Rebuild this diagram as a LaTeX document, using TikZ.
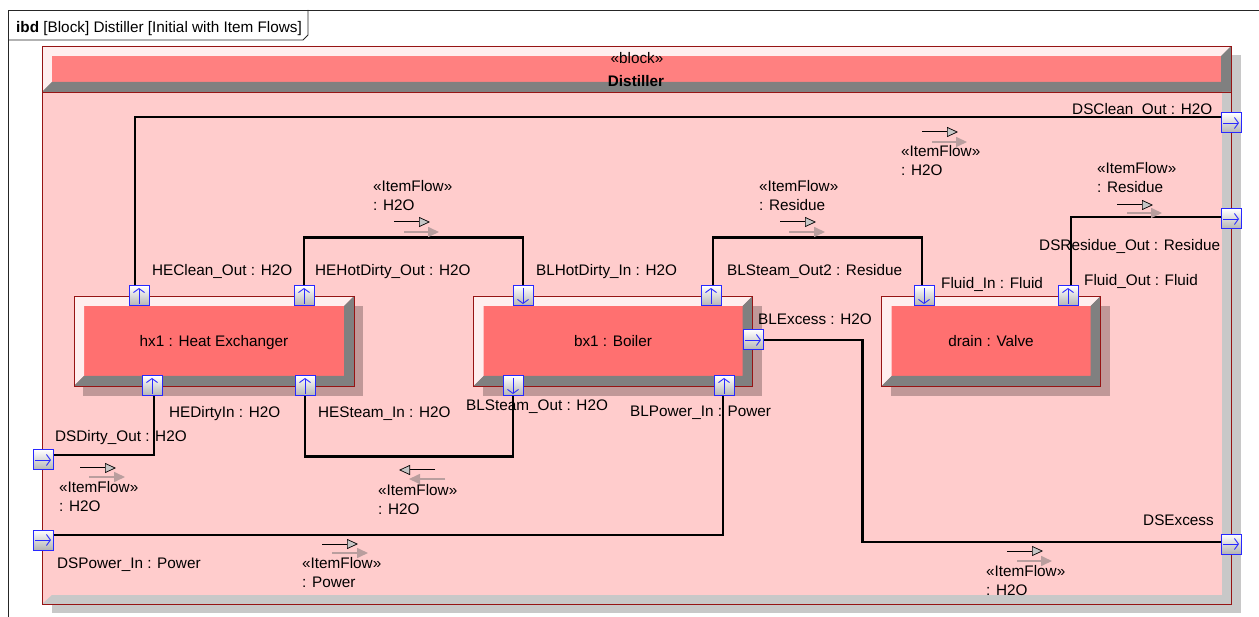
\documentclass[tikz,border=0pt]{standalone}
\usepackage{fontspec}
\setmainfont{Liberation Sans}
\usetikzlibrary{arrows.meta, shadows}

\definecolor{bodypink}{RGB}{255,204,204}
\definecolor{headred}{RGB}{255,128,128}
\definecolor{partred}{RGB}{255,112,112}
\definecolor{edgered}{RGB}{150,20,20}
\definecolor{bevelgray}{RGB}{128,128,128}
\definecolor{bevellight}{RGB}{255,238,238}
\definecolor{partshadow}{RGB}{192,152,152}
\definecolor{frameshadow}{RGB}{200,200,200}
\definecolor{portblue}{RGB}{40,40,255}
\definecolor{ghostgray}{RGB}{185,158,158}

\begin{document}
\begin{tikzpicture}[x=1pt, y=-1pt, font=\fontsize{15.3}{19.3}\selectfont,
  partblock/.style = {rectangle, draw=edgered, fill=partred, minimum height=90pt, inner sep=0pt,
    text height=11pt, text depth=0pt,
    drop shadow={shadow xshift=9pt, shadow yshift=-10pt, fill=partshadow, opacity=1},
    path picture={
      \fill [bevellight] (path picture bounding box.north west) -- (path picture bounding box.north east)
        -- ([shift={(-10pt,-10pt)}]path picture bounding box.north east)
        -- ([shift={(10pt,-10pt)}]path picture bounding box.north west)
        -- ([shift={(10pt,10pt)}]path picture bounding box.south west)
        -- (path picture bounding box.south west) -- cycle;
      \fill [bevelgray] (path picture bounding box.south west) -- (path picture bounding box.south east)
        -- (path picture bounding box.north east)
        -- ([shift={(-10pt,-10pt)}]path picture bounding box.north east)
        -- ([shift={(-10pt,10pt)}]path picture bounding box.south east)
        -- ([shift={(10pt,10pt)}]path picture bounding box.south west) -- cycle;}},
  port/.style = {rectangle, draw=portblue, line width=1pt, minimum size=20pt, inner sep=0pt,
    top color=white, bottom color=gray!60},
  portarrow/.style = {portblue, line width=0.9pt, -{Straight Barb[length=4pt, width=11pt]}},
  portup/.style = {port, path picture={\draw [portarrow] ([yshift=2pt]path picture bounding box.south)
    -- ([yshift=-2pt]path picture bounding box.north);}},
  portdown/.style = {port, path picture={\draw [portarrow] ([yshift=-2pt]path picture bounding box.north)
    -- ([yshift=2pt]path picture bounding box.south);}},
  portright/.style = {port, path picture={\draw [portarrow] ([xshift=2pt]path picture bounding box.west)
    -- ([xshift=-2pt]path picture bounding box.east);}},
  portlabel/.style = {anchor=west, inner sep=0pt, text height=11pt, text depth=0pt},
  flowlabel/.style = {anchor=north west, inner sep=0pt, align=left},
  flowarrow/.style = {line width=1pt, -{Triangle[length=11pt, width=10pt, fill=gray!45, line width=0.7pt]}},
  flowghost/.style = {ghostgray, line width=1.6pt, -{Triangle[length=11pt, width=10pt]}},
  connector/.style = {line width=2.5pt}]

  \useasboundingbox (0, 0) rectangle (1259, 617);

  % Diagram frame.
  \draw [black!85, line width=0.8pt] (8, 617) -- (8, 10) -- (1259, 10);
  \draw [black!85, line width=0.8pt] (8, 40) -- (303, 40) -- (308, 35) -- (308, 10);
  \node at (16, 27) [portlabel, name=FrameTab] {\textbf{ibd} [Block] Distiller [Initial with Item Flows]};

  % Enclosing block.
  \node at (636.5, 325) [rectangle, draw=edgered, fill=bodypink, minimum width=1189pt, minimum height=558pt,
    drop shadow={shadow xshift=10pt, shadow yshift=-9pt, fill=frameshadow, opacity=1}, name=Distiller] {};
  \fill [bevellight] (42, 46) -- (1231, 46) -- (1221, 56) -- (52, 56) -- (52, 82) -- (42, 92) -- cycle;
  \fill [headred] (52, 56) rectangle (1221, 82);
  \fill [bevelgray] (1231, 46) -- (1231, 92) -- (42, 92) -- (52, 82) -- (1221, 82) -- (1221, 56) -- cycle;
  \fill [frameshadow] (1231, 92) -- (1231, 604) -- (42, 604) -- (52, 595) -- (1222, 595) -- (1222, 92) -- cycle;
  \draw [edgered] (42, 46) rectangle (1231, 604);
  \draw [edgered] (42, 92) -- (1231, 92);
  \node at (637, 58) [portlabel, anchor=center, name=DistillerStereo] {«block»};
  \node at (636, 81) [portlabel, anchor=center, name=DistillerName] {\textbf{Distiller}};

  % Parts.
  \node at (214, 341) [partblock, minimum width=280pt, name=HX1] {hx1 : Heat Exchanger};
  \node at (613, 341) [partblock, minimum width=279pt, name=BX1] {bx1 : Boiler};
  \node at (991, 341) [partblock, minimum width=219pt, name=Drain] {drain : Valve};

  % Ports.
  \node at (139, 296) [portup, name=HECleanOut] {};
  \node at (304, 296) [portup, name=HEHotDirtyOut] {};
  \node at (152, 386) [portup, name=HEDirtyIn] {};
  \node at (305, 386) [portup, name=HESteamIn] {};
  \node at (523, 296) [portdown, name=BLHotDirtyIn] {};
  \node at (711, 296) [portup, name=BLSteamOut2] {};
  \node at (753, 340) [portright, name=BLExcess] {};
  \node at (513, 386) [portdown, name=BLSteamOut] {};
  \node at (724, 386) [portup, name=BLPowerIn] {};
  \node at (924, 296) [portdown, name=FluidIn] {};
  \node at (1068, 296) [portup, name=FluidOut] {};
  \node at (1231, 123) [portright, name=DSCleanOut] {};
  \node at (1231, 219) [portright, name=DSResidueOut] {};
  \node at (1231, 544) [portright, name=DSExcess] {};
  \node at (43, 460) [portright, name=DSDirtyOut] {};
  \node at (43, 540) [portright, name=DSPowerIn] {};

  % Port names.
  \node at (152, 270) [portlabel, name=HECleanOutLabel] {HEClean\_Out : H2O};
  \node at (315, 270) [portlabel, name=HEHotDirtyOutLabel] {HEHotDirty\_Out : H2O};
  \node at (536, 270) [portlabel, name=BLHotDirtyInLabel] {BLHotDirty\_In : H2O};
  \node at (727, 270) [portlabel, name=BLSteamOut2Label] {BLSteam\_Out2 : Residue};
  \node at (941, 283) [portlabel, name=FluidInLabel] {Fluid\_In : Fluid};
  \node at (1084, 280) [portlabel, name=FluidOutLabel] {Fluid\_Out : Fluid};
  \node at (1039, 245) [portlabel, name=DSResidueOutLabel] {DSResidue\_Out : Residue};
  \node at (1072, 109) [portlabel, name=DSCleanOutLabel] {DSClean\_Out : H2O};
  \node at (758, 319) [portlabel, name=BLExcessLabel] {BLExcess : H2O};
  \node at (169, 412) [portlabel, name=HEDirtyInLabel] {HEDirtyIn : H2O};
  \node at (318, 412) [portlabel, name=HESteamInLabel] {HESteam\_In : H2O};
  \node at (466, 405) [portlabel, name=BLSteamOutLabel] {BLSteam\_Out : H2O};
  \node at (630, 411) [portlabel, name=BLPowerInLabel] {BLPower\_In : Power};
  \node at (55, 436) [portlabel, name=DSDirtyOutLabel] {DSDirty\_Out : H2O};
  \node at (57, 563) [portlabel, name=DSPowerInLabel] {DSPower\_In : Power};
  \node at (1143, 520) [portlabel, name=DSExcessLabel] {DSExcess};

  % Connectors.
  \draw [connector] ([xshift=-4pt]HECleanOut.north) |- ([yshift=6pt]DSCleanOut.west);
  \draw [connector] (HEHotDirtyOut.north) -- ++(0, -48) -| (BLHotDirtyIn.north);
  \draw [connector] ([xshift=2pt]BLSteamOut2.north) -- ++(0, -48) -| ([xshift=-2pt]FluidIn.north);
  \draw [connector] ([xshift=3pt]FluidOut.north) |- ([yshift=2pt]DSResidueOut.west);
  \draw [connector] (BLExcess.east) -- ++(99, 0) |- ([yshift=2pt]DSExcess.west);
  \draw [connector] ([xshift=2pt]HEDirtyIn.south) |- ([yshift=5pt]DSDirtyOut.east);
  \draw [connector] (HESteamIn.south) -- ++(0, 60) -| (BLSteamOut.south);
  \draw [connector] ([xshift=-1pt]BLPowerIn.south) |- ([yshift=5pt]DSPowerIn.east);

  % Item flows.
  \draw [flowghost] (932, 142) -- (967, 142);
  \draw [flowarrow] (922, 132) -- (958, 132);
  \node at (901, 145) [flowlabel, name=FlowCleanOut] {«ItemFlow»\\: H2O};
  \draw [flowghost] (404, 232) -- (439, 232);
  \draw [flowarrow] (394, 222) -- (430, 222);
  \node at (373, 180) [flowlabel, name=FlowHotDirty] {«ItemFlow»\\: H2O};
  \draw [flowghost] (789, 232) -- (825, 232);
  \draw [flowarrow] (780, 222) -- (816, 222);
  \node at (759, 180) [flowlabel, name=FlowSteamOut2] {«ItemFlow»\\: Residue};
  \draw [flowghost] (1127, 213) -- (1162, 213);
  \draw [flowarrow] (1117, 205) -- (1153, 205);
  \node at (1097, 162) [flowlabel, name=FlowResidueOut] {«ItemFlow»\\: Residue};
  \draw [flowghost] (89, 477) -- (125, 477);
  \draw [flowarrow] (80, 468) -- (116, 468);
  \node at (59, 481) [flowlabel, name=FlowDirtyOut] {«ItemFlow»\\: H2O};
  \draw [flowghost] (445, 479) -- (409, 479);
  \draw [flowarrow] (435, 470) -- (399, 470);
  \node at (378, 484) [flowlabel, name=FlowSteamIn] {«ItemFlow»\\: H2O};
  \draw [flowghost] (332, 553) -- (368, 553);
  \draw [flowarrow] (322, 544) -- (358, 544);
  \node at (302, 557) [flowlabel, name=FlowPowerIn] {«ItemFlow»\\: Power};
  \draw [flowghost] (1017, 561) -- (1052, 561);
  \draw [flowarrow] (1007, 551) -- (1043, 551);
  \node at (986, 565) [flowlabel, name=FlowExcess] {«ItemFlow»\\: H2O};
\end{tikzpicture}
\end{document}
